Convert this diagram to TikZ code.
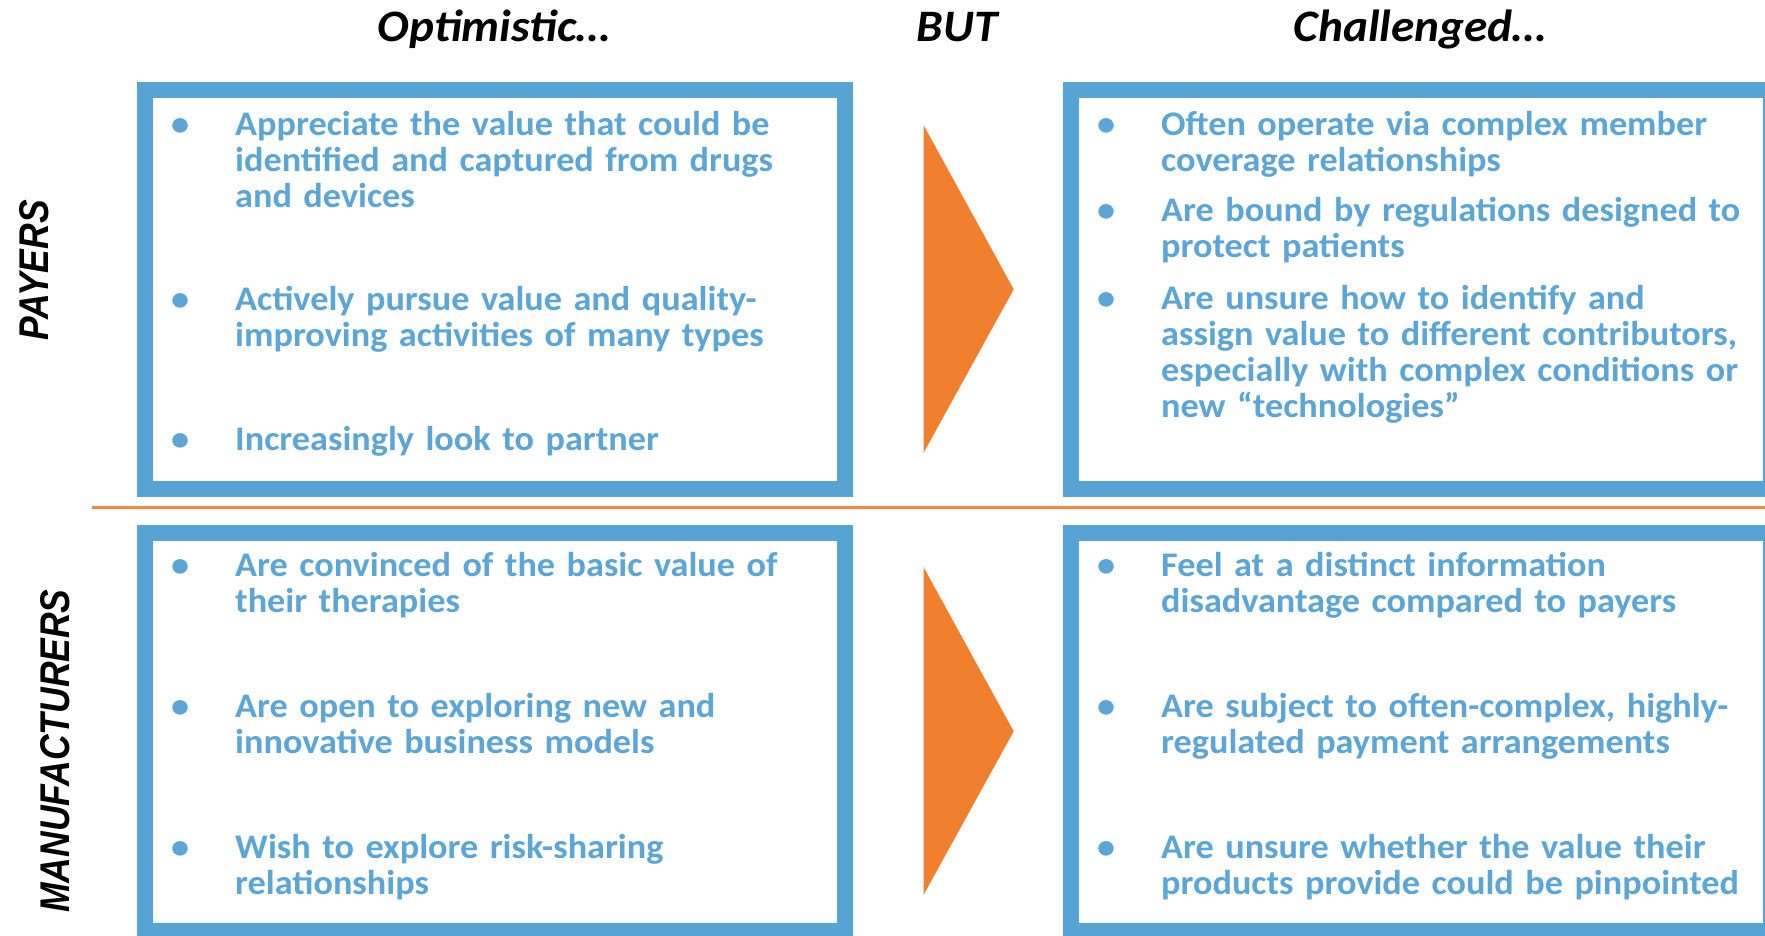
\documentclass[tikz,border=0pt]{standalone}
\usepackage{graphicx}
\usepackage{fontspec}
\setmainfont{Carlito}[FakeStretch=1.05]
\newfontfamily\sidefont{Liberation Sans}
\definecolor{panelblue}{RGB}{87,163,211}
\definecolor{textblue}{RGB}{91,165,215}
\definecolor{butorange}{RGB}{240,127,46}
\definecolor{ruleorange}{RGB}{240,138,70}
\newcommand{\bul}{\llap{\makebox[110pt]{\textbullet}}}
\newcommand{\tallcaps}[1]{\scalebox{1}[1.17]{#1}}

\begin{document}
\begin{tikzpicture}[x=1pt,y=-1pt,
    panel/.style={draw=panelblue,line width=16pt,minimum width=700pt,minimum height=398.5pt,inner sep=0pt},
    point/.style={anchor=base west,text width=660pt,align=left,inner sep=0pt,text=textblue,
      font=\fontsize{34.5}{36}\selectfont\bfseries},
    colhead/.style={anchor=base,inner sep=0pt,font=\fontsize{45}{54}\selectfont\bfseries\itshape},
    rowhead/.style={rotate=90,inner sep=0pt,font=\sidefont\fontsize{35.5}{42}\selectfont\bfseries\itshape}]
    \path[fill=white,use as bounding box] (0,0) rectangle (1765,935);

    \node[colhead] (opt) at (494,41.7) {Optimistic…};
    \node[colhead] (but) at (957,41.7) {BUT};
    \node[colhead] (chal) at (1420,41.7) {Challenged…};

    \node[rowhead] (payers) at (34,270.5) {\tallcaps{PAYERS}};
    \node[rowhead] (manuf) at (55,751) {\tallcaps{MANUFACTURERS}};

    \node[panel] (payopt) at (494.75,289.25) {};
    \node[panel] (paychal) at (1421,289.25) {};
    \node[panel] (manopt) at (494.75,731.75) {};
    \node[panel] (manchal) at (1421,731.75) {};

    \coordinate (rulel) at (92,507.5);
    \coordinate (ruler) at (1765,507.5);
    \draw[ruleorange,line width=2.5pt] (rulel) -- (ruler);

    \foreach \dy in {0,442}
      \fill[butorange] (923.5,125+\dy) -- (1013.7,289.3+\dy) -- (923.5,453+\dy) -- cycle;

    \node[point] (po1) at (235,135) {\bul Appreciate the value that could be\\identified and captured from drugs\\and devices};
    \node[point] (po2) at (235,310) {\bul Actively pursue value and quality-\\improving activities of many types};
    \node[point] (po3) at (235,450.7) {\bul Increasingly look to partner};

    \node[point] (pc1) at (1161,135) {\bul Often operate via complex member\\coverage relationships};
    \node[point] (pc2) at (1161,221.7) {\bul Are bound by regulations designed to\\protect patients};
    \node[point] (pc3) at (1161,309.3) {\bul Are unsure how to identify and\\assign value to different contributors,\\especially with complex conditions or\\new “technologies”};

    \node[point] (mo1) at (235,576.7) {\bul Are convinced of the basic value of\\their therapies};
    \node[point] (mo2) at (235,717.3) {\bul Are open to exploring new and\\innovative business models};
    \node[point] (mo3) at (235,858.3) {\bul Wish to explore risk-sharing\\relationships};

    \node[point] (mc1) at (1161,576.7) {\bul Feel at a distinct information\\disadvantage compared to payers};
    \node[point] (mc2) at (1161,717.3) {\bul Are subject to often-complex, highly-\\regulated payment arrangements};
    \node[point] (mc3) at (1161,858.3) {\bul Are unsure whether the value their\\products provide could be pinpointed};
\end{tikzpicture}
\end{document}
